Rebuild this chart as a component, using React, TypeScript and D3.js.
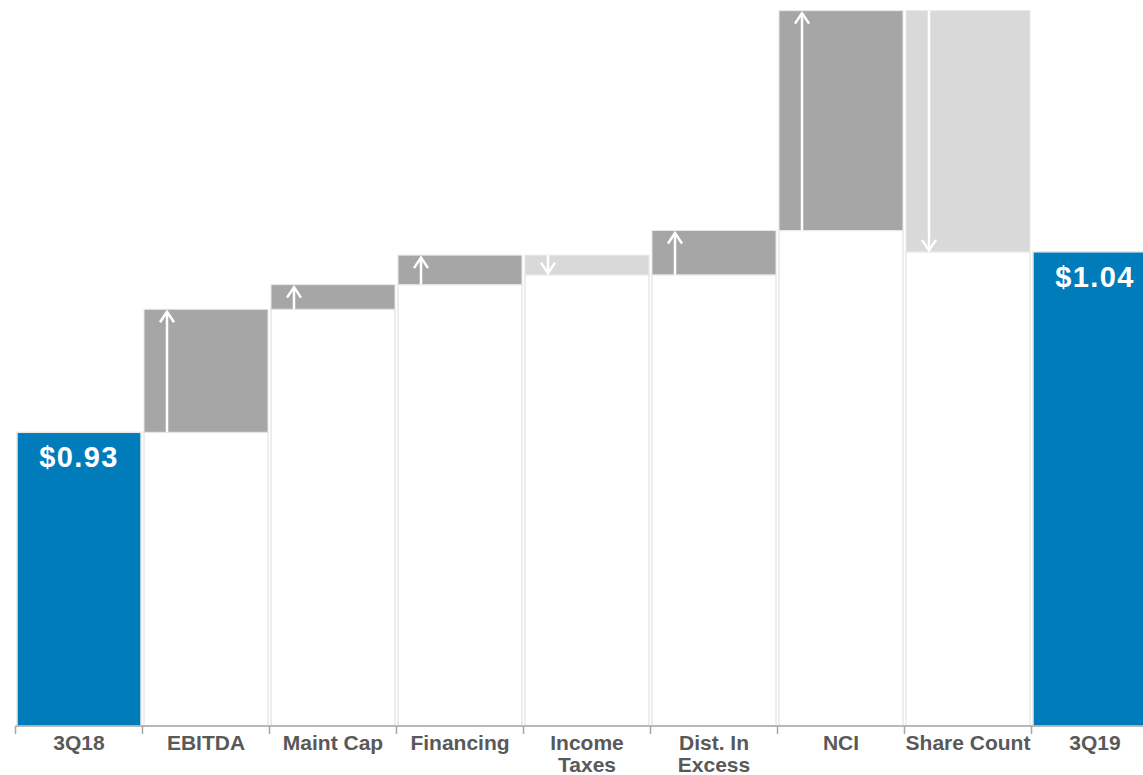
import React from 'react';
import * as d3 from 'd3';

// Waterfall of distributable cash flow per unit, 3Q18 to 3Q19
const categories = ['3Q18', 'EBITDA', 'Maint Cap', 'Financing', 'Income Taxes', 'Dist. In Excess', 'NCI', 'Share Count', '3Q19'];
const labelLines = [['3Q18'], ['EBITDA'], ['Maint Cap'], ['Financing'], ['Income', 'Taxes'], ['Dist. In', 'Excess'], ['NCI'], ['Share Count'], ['3Q19']];
const startValue = 0.93;
const endValue = 1.04;
const changes = [0.075, 0.015, 0.018, -0.012, 0.027, 0.134, -0.147];
const valueLabels = ['$0.93', '$1.04'];
const axisMin = 0.751;
const axisMax = 1.188;

const W = 1143;
const H = 775;
const BASE_Y = 726;
const TOP_Y = 9;

const BLUE = '#007cba';
const UP = '#a6a6a6';
const DOWN = '#d9d9d9';
const EDGE = '#e8e8e8';
const TEXT = '#595959';
const FONT = '"Liberation Sans", Arial, sans-serif';

type Seg = { cat: string; lo: number; hi: number; kind: 'total' | 'up' | 'down' };

function buildSegments(): Seg[] {
  const segs: Seg[] = [{ cat: categories[0], lo: axisMin, hi: startValue, kind: 'total' }];
  let run = startValue;
  changes.forEach((c, i) => {
    const next = run + c;
    segs.push({ cat: categories[i + 1], lo: Math.min(run, next), hi: Math.max(run, next), kind: c >= 0 ? 'up' : 'down' });
    run = next;
  });
  segs.push({ cat: categories[categories.length - 1], lo: axisMin, hi: endValue, kind: 'total' });
  return segs;
}

export default function App() {
  const x = d3.scaleBand<string>().domain(categories).range([15.5, 15.5 + 127 * categories.length]).padding(0);
  const y = d3.scaleLinear().domain([axisMin, axisMax]).range([BASE_Y, TOP_Y]);
  const bw = x.bandwidth();
  const segs = buildSegments();
  const inset = 1.5;
  const barW = bw - 3;
  const arrowOff = 23;

  const ticks = categories.map((c) => x(c) as number);

  let totalIdx = 0;
  return (
    <svg width={W} height={H} style={{ position: 'absolute', left: 0, top: 0 }}>
      <rect x={0} y={0} width={W} height={H} fill="#fff" />
      {/* white floors beneath each floating step */}
      {segs.map((s, i) =>
        s.kind === 'total' ? null : (
          <rect key={'f' + i} x={(x(s.cat) as number) + inset} y={y(s.lo)} width={barW} height={BASE_Y - y(s.lo)}
            fill="#fff" stroke={EDGE} strokeWidth={1.5} />
        )
      )}
      {segs.map((s, i) => (
        <rect key={'b' + i} x={(x(s.cat) as number) + inset} y={y(s.hi)} width={barW}
          height={(s.kind === 'total' ? BASE_Y : y(s.lo)) - y(s.hi)}
          fill={s.kind === 'total' ? BLUE : s.kind === 'up' ? UP : DOWN}
          stroke={EDGE} strokeWidth={s.kind === 'total' ? 1.5 : 1} />
      ))}
      {/* direction arrows */}
      {segs.map((s, i) => {
        if (s.kind === 'total') return null;
        const ax = (x(s.cat) as number) + inset + arrowOff;
        const top = y(s.hi);
        const bot = y(s.lo);
        if (s.kind === 'up') {
          const tip = top + 2.5;
          return (
            <g key={'a' + i} stroke="#fff" strokeWidth={2.5} fill="none">
              <line x1={ax} x2={ax} y1={bot} y2={tip} />
              <polyline points={`${ax - 7},${tip + 10.5} ${ax},${tip} ${ax + 7},${tip + 10.5}`} />
            </g>
          );
        }
        const tip = bot - 1.5;
        return (
          <g key={'a' + i} stroke="#fff" strokeWidth={2.5} fill="none">
            <line x1={ax} x2={ax} y1={top} y2={tip} />
            <polyline points={`${ax - 7},${tip - 10.5} ${ax},${tip} ${ax + 7},${tip - 10.5}`} />
          </g>
        );
      })}
      {/* value labels on the totals */}
      {segs.map((s, i) => {
        if (s.kind !== 'total') return null;
        const label = valueLabels[totalIdx++];
        return (
          <text key={'v' + i} x={(x(s.cat) as number) + bw / 2} y={y(s.hi) + 35} textAnchor="middle"
            fill="#fff" fontFamily={FONT} fontWeight="bold" fontSize={29} letterSpacing={1.4}>
            {label}
          </text>
        );
      })}
      {/* category axis */}
      <line x1={15.5} x2={W} y1={BASE_Y} y2={BASE_Y} stroke="#a6a6a6" strokeWidth={1.5} />
      {ticks.map((t, i) => (
        <line key={'t' + i} x1={t} x2={t} y1={BASE_Y} y2={BASE_Y + 8} stroke="#a6a6a6" strokeWidth={1.5} />
      ))}
      {categories.map((c, i) => (
        <text key={'l' + i} x={(x(c) as number) + bw / 2} textAnchor="middle" fill={TEXT}
          fontFamily={FONT} fontWeight="bold" fontSize={21}>
          {labelLines[i].map((ln, j) => (
            <tspan key={j} x={(x(c) as number) + bw / 2} y={750 + j * 21.5}>{ln}</tspan>
          ))}
        </text>
      ))}
    </svg>
  );
}
